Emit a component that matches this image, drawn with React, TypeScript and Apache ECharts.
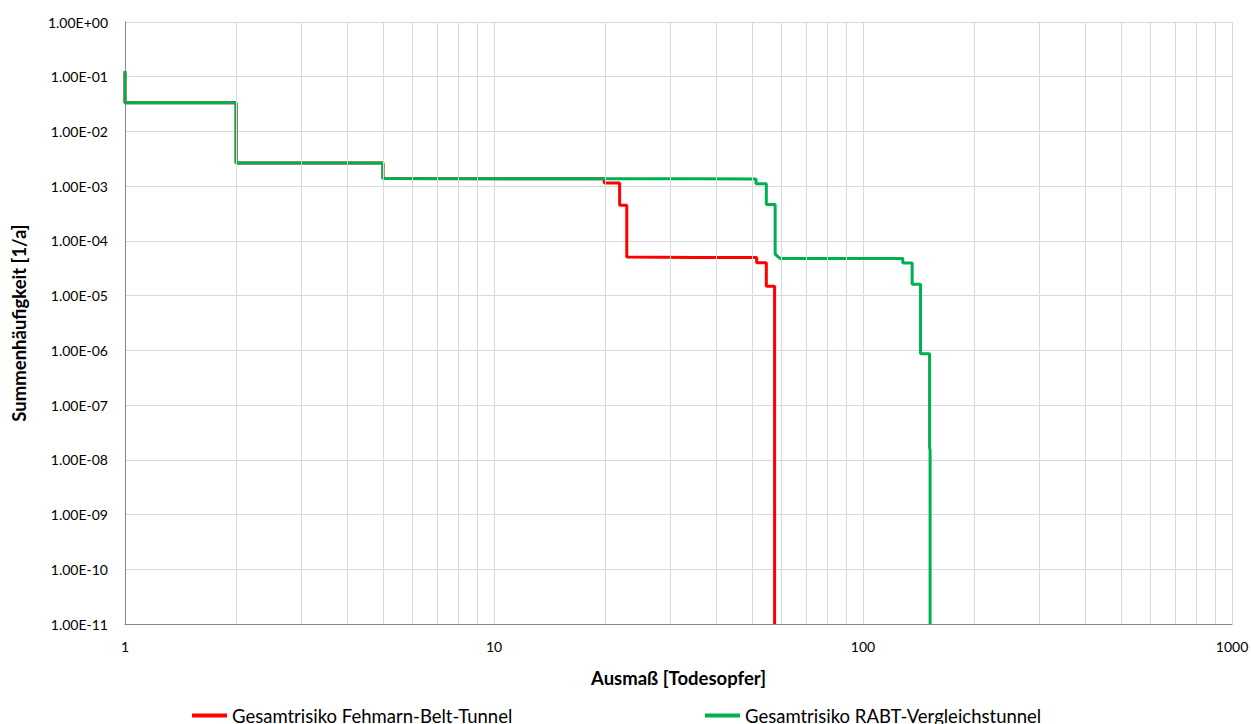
import React, { useEffect, useRef } from "react";
import * as echarts from "echarts";

const fehmarnX = [1, 1, 2, 2, 5, 5, 15, 19.9, 19.9, 21.9, 21.9, 22.9, 22.9, 35, 51.5, 51.5, 54.7, 54.7, 57.6, 57.6];
const fehmarnY = [0.126, 0.0334, 0.0334, 0.00265, 0.00265, 0.00138, 0.00137, 0.00136, 0.00114, 0.00114, 0.000448, 0.000448, 5.08e-5, 5.0e-5, 4.96e-5, 3.98e-5, 3.98e-5, 1.48e-5, 1.48e-5, 1e-11];

const rabtX = [1, 1, 2, 2, 5, 5, 15, 35, 51.3, 51.3, 54.7, 54.7, 57.8, 57.8, 59.7, 128.2, 128.2, 135.9, 135.9, 143.2, 143.2, 151.5, 151.5, 152, 152];
const rabtY = [0.126, 0.0334, 0.0334, 0.00265, 0.00265, 0.00138, 0.00137, 0.00136, 0.00135, 0.00111, 0.00111, 0.000461, 0.000461, 5.7e-5, 4.75e-5, 4.75e-5, 3.95e-5, 3.95e-5, 1.61e-5, 1.61e-5, 8.7e-7, 8.7e-7, 1.72e-8, 1.5e-8, 1e-11];

const minorX = [2, 3, 4, 5, 6, 7, 8, 9, 20, 30, 40, 50, 60, 70, 80, 90, 200, 300, 400, 500, 600, 700, 800, 900];

const seriesNames = ["Gesamtrisiko Fehmarn-Belt-Tunnel", "Gesamtrisiko RABT-Vergleichstunnel"];
const xTitle = "Ausmaß [Todesopfer]";
const yTitle = "Summenhäufigkeit [1/a]";

const FONT = "Lato";

function fmtSci(v: number): string {
  const exp = Math.round(Math.log10(v));
  const mant = v / Math.pow(10, exp);
  return `${mant.toFixed(2)}E${exp < 0 ? "-" : "+"}${String(Math.abs(exp)).padStart(2, "0")}`;
}

export default function App() {
  const ref = useRef<HTMLDivElement>(null);
  useEffect(() => {
    if (!ref.current) return;
    const chart = echarts.init(ref.current, undefined, { renderer: "svg" });
    chart.setOption({
      animation: false,
      backgroundColor: "#ffffff",
      textStyle: { fontFamily: FONT },
      grid: { left: 125, right: 19, top: 22, bottom: 100, containLabel: false, outerBoundsMode: "none" },
      legend: [
        {
          data: [seriesNames[0]],
          left: 192,
          top: 706,
          padding: 0,
          icon: "rect",
          itemWidth: 35,
          itemHeight: 4,
          textStyle: { fontFamily: FONT, fontSize: 18.5, color: "#000" },
        },
        {
          data: [seriesNames[1]],
          left: 705,
          top: 706,
          padding: 0,
          icon: "rect",
          itemWidth: 35,
          itemHeight: 4,
          textStyle: { fontFamily: FONT, fontSize: 18.5, color: "#000" },
        },
      ],
      xAxis: {
        type: "log",
        logBase: 10,
        min: 1,
        max: 1000,
        name: xTitle,
        nameLocation: "middle",
        nameGap: 44,
        nameTextStyle: { fontFamily: FONT, fontSize: 18.5, fontWeight: "bold", color: "#000" },
        axisLine: { show: true, lineStyle: { color: "#868686", width: 1 } },
        axisTick: { show: false },
        axisLabel: {
          fontFamily: FONT,
          fontSize: 14,
          color: "#000",
          margin: 15,
          formatter: (v: number) => String(Math.round(v)),
        },
        splitLine: { show: true, lineStyle: { color: "#d9d9d9", width: 1 } },
      },
      yAxis: {
        type: "log",
        logBase: 10,
        min: 1e-11,
        max: 1,
        interval: 1,
        splitNumber: 11,
        name: yTitle,
        nameLocation: "middle",
        nameGap: 97,
        nameTextStyle: { fontFamily: FONT, fontSize: 18.5, fontWeight: "bold", color: "#000" },
        axisLine: { show: true, lineStyle: { color: "#868686", width: 1 } },
        axisTick: { show: false },
        axisLabel: {
          fontFamily: FONT,
          fontSize: 14,
          color: "#000",
          margin: 17,
          formatter: (v: number) => fmtSci(v),
        },
        splitLine: { show: true, lineStyle: { color: "#d9d9d9", width: 1 } },
      },
      series: [
        {
          name: "minor-grid",
          type: "line",
          data: [],
          silent: true,
          markLine: {
            silent: true,
            symbol: ["none", "none"],
            label: { show: false },
            lineStyle: { color: "#d9d9d9", width: 1, type: "solid" },
            emphasis: { disabled: true },
            data: minorX.map((x) => ({ xAxis: x })),
          },
        },
        {
          name: seriesNames[0],
          type: "line",
          data: fehmarnX.map((x, i) => [x, fehmarnY[i]]),
          showSymbol: false,
          symbol: "none",
          clip: true,
          color: "#FF0000",
          lineStyle: { color: "#FF0000", width: 3 },
        },
        {
          name: seriesNames[1],
          type: "line",
          data: rabtX.map((x, i) => [x, rabtY[i]]),
          showSymbol: false,
          symbol: "none",
          clip: true,
          color: "#00B050",
          lineStyle: { color: "#00B050", width: 3 },
        },
      ],
    });
    return () => chart.dispose();
  }, []);
  return <div ref={ref} style={{ position: "fixed", left: 0, top: 0, width: 1251, height: 724 }} />;
}
